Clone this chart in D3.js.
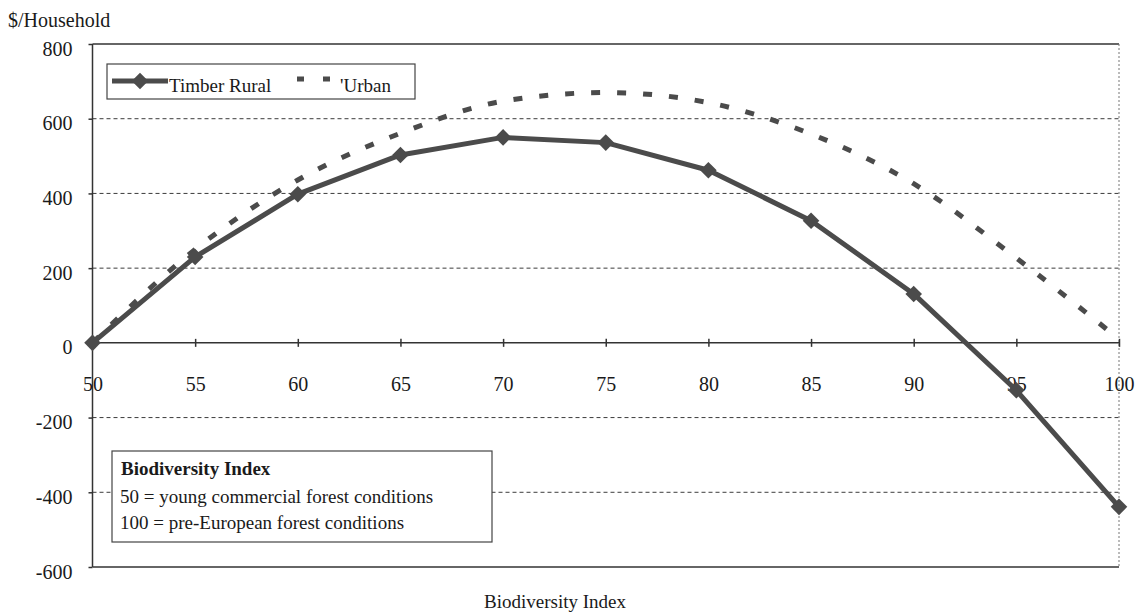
<!DOCTYPE html>
<html lang="en">
<head>
    <meta charset="UTF-8">
    <title>Biodiversity Index</title>
    <script src="https://cdn.jsdelivr.net/npm/d3@7/dist/d3.min.js" charset="utf-8"></script>
    <style>
        body {
            margin: 0;
            padding: 0;
            background: #fff;
        }
        text {
            font-family: "Liberation Serif", "Times New Roman", serif;
            fill: #1a1a1a;
        }
        .grid line {
            stroke: #3c3c3c;
            stroke-width: 1;
            stroke-dasharray: 4 3;
        }
        .axis path, .axis line {
            stroke: #333;
            stroke-width: 1.5;
        }
    </style>
</head>
<body>
<svg width="1138" height="613"></svg>
<script>
    // data
    var biodiv = [50, 55, 60, 65, 70, 75, 80, 85, 90, 95, 100];
    var timberRural = [0, 230, 398, 503, 550, 536, 462, 327, 131, -127, -439];
    var urban = [0, 250, 436, 561, 647, 670, 643, 559, 426, 227, 10];
    var yTicks = [-600, -400, -200, 0, 200, 400, 600, 800];
    var gridTicks = [-400, -200, 200, 400, 600];
    var noteLines = ['50 = young commercial forest conditions', '100 = pre-European forest conditions'];

    // plot box (window.top is reserved, so other names)
    var pLeft = 92.5, pRight = 1119, pTop = 44, pBottom = 567;
    var lineColor = '#4b4b4b';

    var svg = d3.select('svg');
    var x = d3.scaleLinear().domain([50, 100]).range([pLeft, pRight]);
    var y = d3.scaleLinear().domain([-600, 800]).range([pBottom, pTop]);

    // gridlines
    svg.append('g').attr('class', 'grid')
        .selectAll('line').data(gridTicks).enter().append('line')
        .attr('x1', pLeft).attr('x2', pRight)
        .attr('y1', function(d) { return y(d); })
        .attr('y2', function(d) { return y(d); });

    // frame
    svg.append('line')
        .attr('x1', pLeft).attr('x2', pRight).attr('y1', pTop).attr('y2', pTop)
        .style('stroke', '#333').style('stroke-width', 1.3);
    svg.append('line')
        .attr('x1', pLeft).attr('x2', pRight).attr('y1', pBottom).attr('y2', pBottom)
        .style('stroke', '#333').style('stroke-width', 1.5);
    svg.append('line')
        .attr('x1', pRight).attr('x2', pRight).attr('y1', pTop).attr('y2', pBottom)
        .style('stroke', '#777').style('stroke-width', 1).style('stroke-dasharray', '2 2');

    // y axis (plain hyphen for negatives, as in the print)
    var yAxis = svg.append('g').attr('class', 'axis')
        .attr('transform', 'translate(' + pLeft + ',0)')
        .call(d3.axisLeft(y).tickValues(yTicks).tickSize(4).tickPadding(16)
            .tickFormat(function(d) { return String(d); }));
    yAxis.select('.domain').attr('d', 'M0,' + pTop + 'V' + pBottom);
    yAxis.selectAll('text')
        .style('font-size', '20px')
        .attr('dy', '11px');

    // x axis through zero
    var xAxis = svg.append('g').attr('class', 'axis')
        .attr('transform', 'translate(0,' + y(0) + ')')
        .call(d3.axisBottom(x).tickValues(biodiv).tickSize(4).tickSizeOuter(0).tickPadding(30));
    xAxis.select('.domain').attr('d', 'M' + pLeft + ',0H' + pRight);
    xAxis.selectAll('.tick line').attr('y1', -4);
    xAxis.selectAll('text').style('font-size', '20px');

    // urban dashed line
    var line = d3.line()
        .x(function(d, i) { return x(biodiv[i]); })
        .y(function(d) { return y(d); })
        .curve(d3.curveMonotoneX);
    svg.append('path')
        .attr('d', line(urban))
        .style('fill', 'none')
        .style('stroke', lineColor)
        .style('stroke-width', 5)
        .style('stroke-dasharray', '9 17');

    // timber rural line with diamonds
    var straight = d3.line()
        .x(function(d, i) { return x(biodiv[i]); })
        .y(function(d) { return y(d); });
    svg.append('path')
        .attr('d', straight(timberRural))
        .style('fill', 'none')
        .style('stroke', lineColor)
        .style('stroke-width', 5)
        .style('stroke-linejoin', 'round');
    var diamond = d3.symbol().type(d3.symbolDiamond2).size(175);
    svg.selectAll('.marker').data(timberRural).enter().append('path')
        .attr('class', 'marker')
        .attr('d', diamond)
        .attr('transform', function(d, i) { return 'translate(' + x(biodiv[i]) + ',' + y(d) + ')'; })
        .style('fill', lineColor);

    // legend
    var lg = svg.append('g');
    lg.append('rect')
        .attr('x', 107).attr('y', 64).attr('width', 308).attr('height', 35)
        .style('fill', '#fff').style('stroke', '#444').style('stroke-width', 1.2);
    lg.append('line')
        .attr('x1', 112).attr('x2', 168).attr('y1', 81).attr('y2', 81)
        .style('stroke', lineColor).style('stroke-width', 5);
    lg.append('path')
        .attr('d', diamond)
        .attr('transform', 'translate(140,81)')
        .style('fill', lineColor);
    lg.append('text').attr('x', 169).attr('y', 92).style('font-size', '19px').text('Timber Rural');
    lg.append('line')
        .attr('x1', 297).attr('x2', 338).attr('y1', 79).attr('y2', 79)
        .style('stroke', lineColor).style('stroke-width', 5).style('stroke-dasharray', '7 19');
    lg.append('text').attr('x', 340).attr('y', 92).style('font-size', '19px').text('\'Urban');

    // note box
    var nb = svg.append('g');
    nb.append('rect')
        .attr('x', 112).attr('y', 451).attr('width', 380).attr('height', 91)
        .style('fill', '#fff').style('stroke', '#444').style('stroke-width', 1.2);
    nb.append('text').attr('x', 121).attr('y', 475)
        .style('font-size', '19px').style('font-weight', 'bold').text('Biodiversity Index');
    nb.selectAll('.note').data(noteLines).enter().append('text')
        .attr('class', 'note')
        .attr('x', 120)
        .attr('y', function(d, i) { return 503 + i * 26; })
        .style('font-size', '19px')
        .text(function(d) { return d; });

    // titles
    svg.append('text').attr('x', 8).attr('y', 27).style('font-size', '20px').text('$/Household');
    svg.append('text').attr('x', 555).attr('y', 608)
        .style('font-size', '19px').style('text-anchor', 'middle').text('Biodiversity Index');
</script>
</body>
</html>
